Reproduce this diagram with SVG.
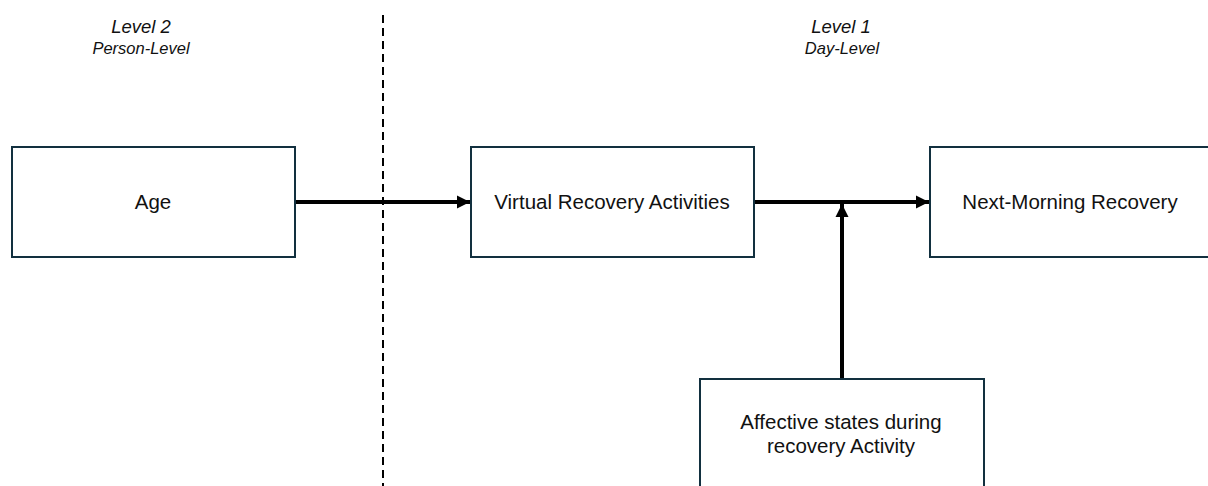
<svg xmlns="http://www.w3.org/2000/svg" width="1208" height="486" viewBox="0 0 1208 486">
<style>
.box{fill:#fff;stroke:#12303f;stroke-width:2}
.lbl{font-family:"Liberation Sans",Arial,sans-serif;font-size:20.5px;fill:#111;text-anchor:middle}
.lvl{font-family:"Liberation Sans",Arial,sans-serif;font-style:italic;fill:#111;text-anchor:middle}
.conn{stroke:#000;stroke-width:4;fill:none}
</style>
<defs>
<marker id="ah" viewBox="0 0 10 10" refX="10" refY="5" markerWidth="3.3" markerHeight="3.6" orient="auto" markerUnits="strokeWidth">
<path d="M0,0 L10,5 L0,10 z" fill="#000"/>
</marker>
</defs>
<rect width="1208" height="486" fill="#fff"/>
<g id="levels">
<text class="lvl" x="141" y="33" font-size="18.5">Level 2</text>
<text class="lvl" x="141" y="54" font-size="16.5">Person-Level</text>
<text class="lvl" x="841" y="33" font-size="18.5">Level 1</text>
<text class="lvl" x="842" y="54" font-size="16.5">Day-Level</text>
</g>
<line id="divider" x1="383" y1="15" x2="383" y2="486" stroke="#000" stroke-width="2" stroke-dasharray="8,5"/>
<g id="connectors">
<line class="conn" x1="295" y1="202" x2="470" y2="202" marker-end="url(#ah)"/>
<line class="conn" x1="754" y1="202" x2="929" y2="202" marker-end="url(#ah)"/>
<line class="conn" x1="842" y1="379" x2="842" y2="204" marker-end="url(#ah)"/>
</g>
<g id="node-age">
<rect class="box" x="12" y="147" width="283" height="110"/>
<text class="lbl" x="153" y="209">Age</text>
</g>
<g id="node-vra">
<rect class="box" x="471" y="147" width="283" height="110"/>
<text class="lbl" x="612" y="209">Virtual Recovery Activities</text>
</g>
<g id="node-nmr">
<rect class="box" x="930" y="147" width="283" height="110"/>
<text class="lbl" x="1070" y="209">Next-Morning Recovery</text>
</g>
<g id="node-affect">
<rect class="box" x="700" y="379" width="284" height="120"/>
<text class="lbl" x="841" y="429">Affective states during</text>
<text class="lbl" x="841" y="453">recovery Activity</text>
</g>
</svg>
